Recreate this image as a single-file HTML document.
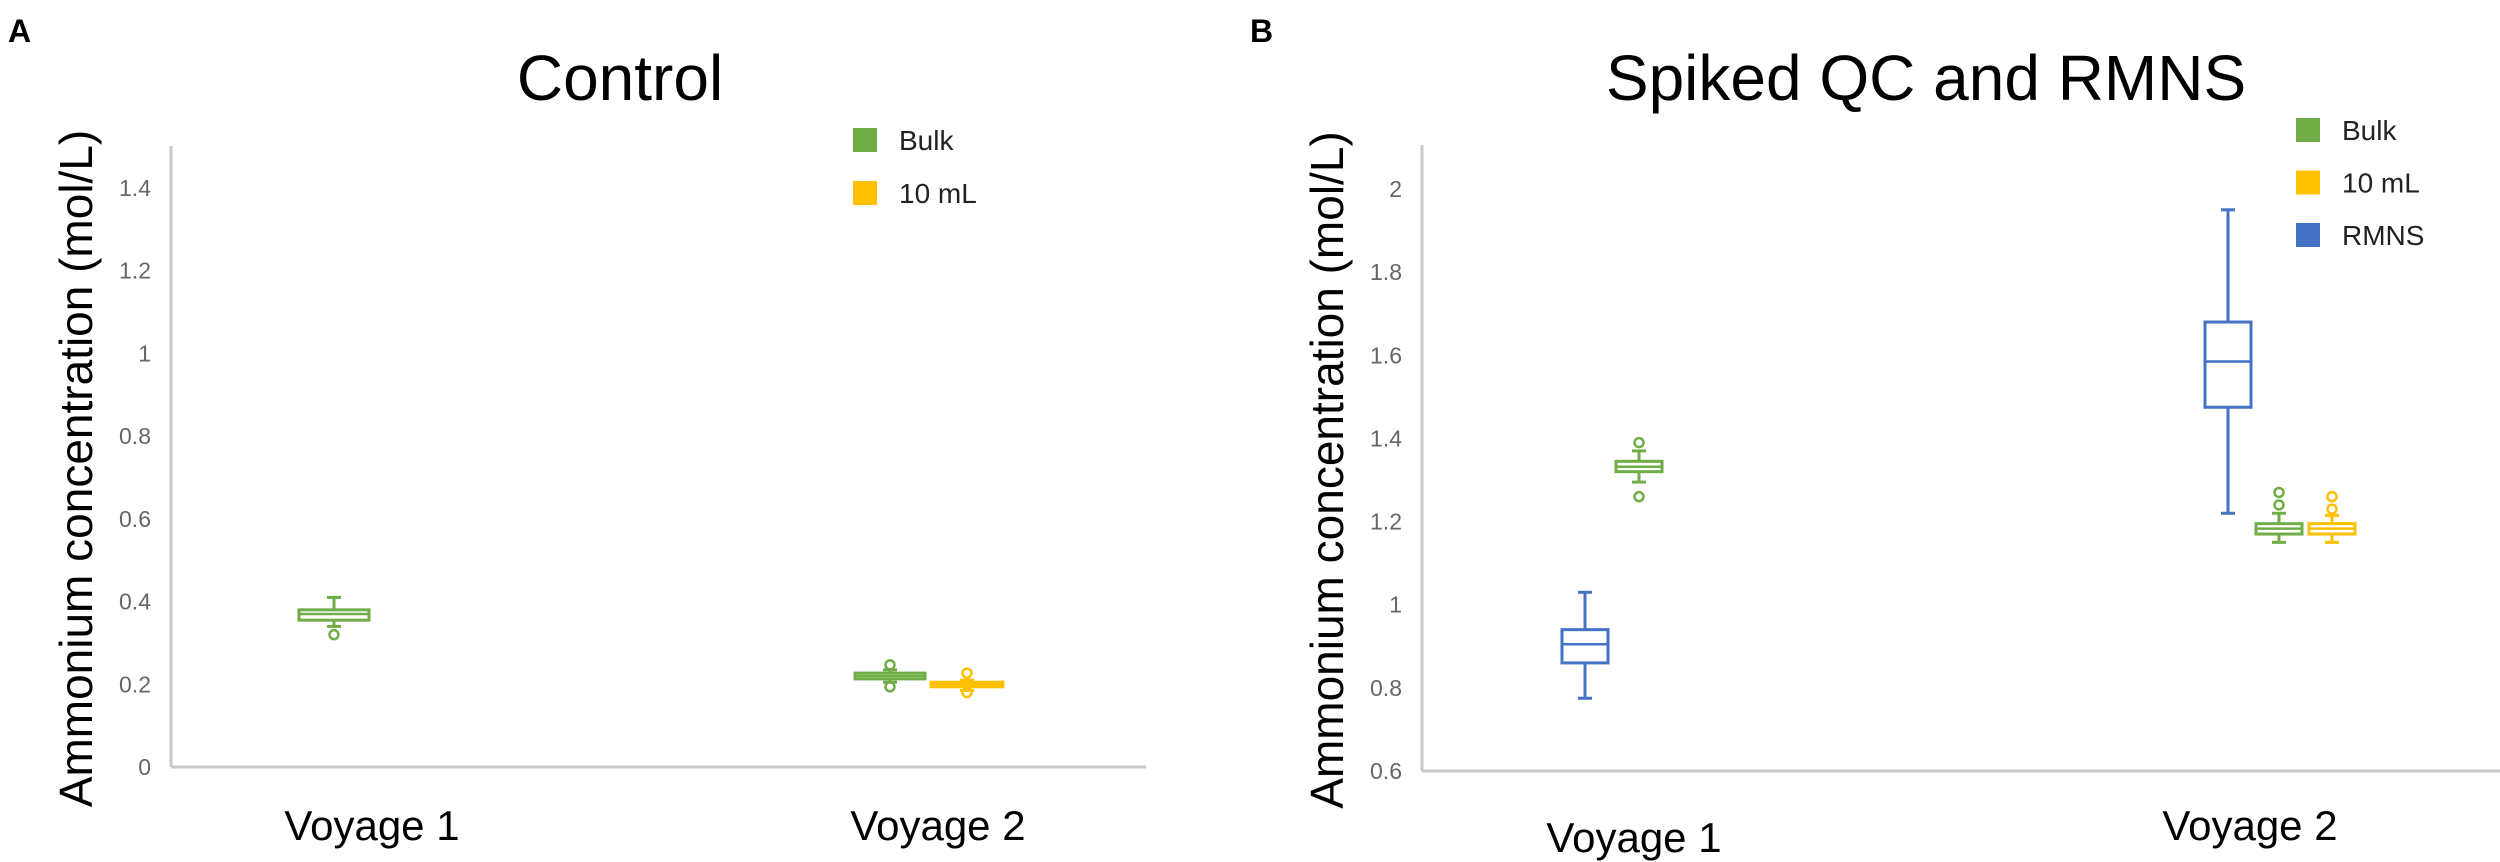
<!DOCTYPE html>
<html><head><meta charset="utf-8"><style>
html,body{margin:0;padding:0;background:#fff;}
svg{display:block;font-family:"Liberation Sans",sans-serif;}
</style></head><body>
<svg id="chart" width="2500" height="862" viewBox="0 0 2500 862" xmlns="http://www.w3.org/2000/svg">
<text x="8" y="42" font-size="32" font-weight="bold">A</text>
<text x="1250" y="42" font-size="32" font-weight="bold">B</text>
<g id="pa"></g>
<g id="pb"></g>
</svg>
<script>
const NS="http://www.w3.org/2000/svg";
const ticksA=[0,0.2,0.4,0.6,0.8,1,1.2,1.4];
const tickLabelsA=["0","0.2","0.4","0.6","0.8","1","1.2","1.4"];
const ticksB=[0.6,0.8,1,1.2,1.4,1.6,1.8,2];
const tickLabelsB=["0.6","0.8","1","1.2","1.4","1.6","1.8","2"];
const categories=["Voyage 1","Voyage 2"];
// boxes: [lowWhisker, q1, median, q3, highWhisker]
const boxesA_bulk=[[0.34,0.355,0.37,0.38,0.41],[0.205,0.213,0.22,0.227,0.235]];
const boxesA_10ml=[null,[0.185,0.194,0.2,0.205,0.21]];
const outliersA_bulk=[[0.32],[0.247,0.194]];
const outliersA_10ml=[[],[0.227,0.18]];
const boxesB_rmns=[[0.775,0.86,0.905,0.94,1.03],[1.22,1.475,1.585,1.68,1.95]];
const boxesB_bulk=[[1.295,1.32,1.332,1.345,1.37],[1.15,1.17,1.183,1.195,1.22]];
const boxesB_10ml=[null,[1.15,1.17,1.183,1.195,1.215]];
const outliersB_bulk=[[1.39,1.26],[1.24,1.27]];
const outliersB_10ml=[[],[1.23,1.26]];

function el(tag,attrs,parent,txt){const e=document.createElementNS(NS,tag);for(const k in attrs)e.setAttribute(k,attrs[k]);if(txt!==undefined)e.textContent=txt;parent.appendChild(e);return e;}

function panel(g,cfg){
  const y=v=>cfg.y0-(v-cfg.vmin)*cfg.k;
  let t=el('text',{x:cfg.titleX,y:100,'font-size':64,'text-anchor':'middle',fill:'#000'},g,cfg.title);
  
  
  let ax=el('line',{x1:cfg.ax,y1:cfg.axTop,x2:cfg.ax,y2:cfg.y0,stroke:'#c8c8c8','stroke-width':3},g);
  
  
  let xa=el('line',{x1:cfg.ax,y1:cfg.y0,x2:cfg.axEnd,y2:cfg.y0,stroke:'#c8c8c8','stroke-width':3},g);
  
  
  cfg.ticks.forEach((v,i)=>{
    const tt=el('text',{x:cfg.ax-20,y:y(v)+8,'font-size':23,'text-anchor':'end',fill:'#666'},g,cfg.tickLabels[i]);
    
    
  });
  const yt=el('text',{x:0,y:0,'font-size':46,'text-anchor':'middle',fill:'#000',transform:`translate(${cfg.ax-79},${(cfg.axTop+cfg.y0)/2+12}) rotate(-90)`},g,'Ammonium concentration (mol/L)');
  
  
  categories.forEach((c,i)=>{
    const ct=el('text',{x:cfg.catX[i],y:cfg.catY[i],'font-size':42,'text-anchor':'middle',fill:'#000'},g,c);
    
    
  });
  cfg.legend.forEach((L,i)=>{
    const r=el('rect',{x:cfg.legX,y:cfg.legY+i*cfg.legDy-12,width:24,height:24,fill:L.color},g);
    
    
    const lt=el('text',{x:cfg.legX+46,y:cfg.legY+i*cfg.legDy+10,'font-size':28,fill:'#222'},g,L.name);
    
    
  });
  cfg.series.forEach(s=>{
    s.boxes.forEach((b,i)=>{
      const cx=s.xs[i], w=s.w, col=s.color;
      const grp=el('g',{},g);
      
      
      if(b){
        el('line',{x1:cx,y1:y(b[4]),x2:cx,y2:y(b[3]),stroke:col,'stroke-width':3},grp);
        el('line',{x1:cx,y1:y(b[1]),x2:cx,y2:y(b[0]),stroke:col,'stroke-width':3},grp);
        el('line',{x1:cx-7,y1:y(b[4]),x2:cx+7,y2:y(b[4]),stroke:col,'stroke-width':3},grp);
        el('line',{x1:cx-7,y1:y(b[0]),x2:cx+7,y2:y(b[0]),stroke:col,'stroke-width':3},grp);
        el('rect',{x:cx-w/2,y:y(b[3]),width:w,height:Math.max(2,y(b[1])-y(b[3])),fill:'#fff',stroke:col,'stroke-width':3},grp);
        el('line',{x1:cx-w/2,y1:y(b[2]),x2:cx+w/2,y2:y(b[2]),stroke:col,'stroke-width':2.5},grp);
      }
      (s.out[i]||[]).forEach(o=>{
        const c=el('circle',{cx:cx,cy:y(o),r:4.5,fill:'none',stroke:col,'stroke-width':2.5},grp);
        
        
      });
    });
  });
}
const G='#70ad47',Y='#ffc000',B='#4472c4';
panel(document.getElementById('pa'),{
  title:'Control',titleX:620,vmin:0,y0:767,k:413.6,ax:171,axTop:146,axEnd:1146,
  ticks:ticksA,tickLabels:tickLabelsA,catX:[372,938],catY:[840,840],
  legX:853,legY:140,legDy:53,
  legend:[{name:'Bulk',color:G},{name:'10 mL',color:Y}],
  series:[{key:'bulk',color:G,w:70,xs:[334,890],boxes:boxesA_bulk,out:outliersA_bulk},
          {key:'10ml',color:Y,w:72,xs:[0,967],boxes:boxesA_10ml,out:outliersA_10ml}]
});
panel(document.getElementById('pb'),{
  title:'Spiked QC and RMNS',titleX:1926,vmin:0.6,y0:771,k:415.7,ax:1422,axTop:145,axEnd:2500,
  ticks:ticksB,tickLabels:tickLabelsB,catX:[1634,2250],catY:[852,840],
  legX:2296,legY:130,legDy:52.5,
  legend:[{name:'Bulk',color:G},{name:'10 mL',color:Y},{name:'RMNS',color:B}],
  series:[{key:'rmns',color:B,w:46,xs:[1585,2228],boxes:boxesB_rmns,out:[[],[]]},
          {key:'bulk',color:G,w:46,xs:[1639,2279],boxes:boxesB_bulk,out:outliersB_bulk},
          {key:'10ml',color:Y,w:46,xs:[0,2332],boxes:boxesB_10ml,out:outliersB_10ml}]
});
</script>
</body></html>
